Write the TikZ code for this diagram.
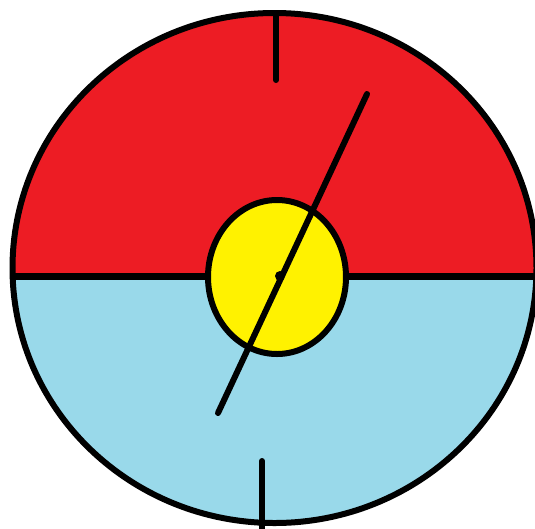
\documentclass[tikz,border=0pt]{standalone}
\definecolor{paintred}{HTML}{ED1C24}
\definecolor{paintblue}{HTML}{99D9EA}
\definecolor{paintyellow}{HTML}{FFF200}
\tikzset{
  rim/.style={draw=black, line width=6pt},
  stroke/.style={draw=black, line width=6pt, line cap=round}
}
\begin{document}
\begin{tikzpicture}[x=1pt,y=-1pt]
\useasboundingbox (0,0) rectangle (535,528);
\coordinate (C) at (274.5,268);
\coordinate (Y) at (277,277);
% outer disc halves
\fill[paintblue] (C) ellipse [x radius=262, y radius=255];
\begin{scope}
  \clip (0,0) rectangle (545,276);
  \fill[paintred] (C) ellipse [x radius=262, y radius=255];
\end{scope}
% divider
\begin{scope}
  \clip (C) ellipse [x radius=262, y radius=255];
  \coordinate (L) at (0,276);
  \coordinate (R) at (545,276);
  \draw[draw=black, line width=7pt] (L) -- (R);
\end{scope}
\draw[rim] (C) ellipse [x radius=262, y radius=255];
% ticks
\coordinate (T1) at (276,13);
\coordinate (T2) at (276,80);
\coordinate (B1) at (262,461);
\coordinate (B2) at (262,532);
\draw[stroke] (T1) -- (T2);
\draw[stroke] (B1) -- (B2);
% inner yellow disc
\fill[paintyellow] (Y) ellipse [x radius=69, y radius=77];
\draw[rim] (Y) ellipse [x radius=69, y radius=77];
% needle
\coordinate (N1) at (367,94);
\coordinate (N2) at (218,413);
\draw[stroke] (N1) -- (N2);
\fill[black] (280,276) circle (5);
\end{tikzpicture}
\end{document}
